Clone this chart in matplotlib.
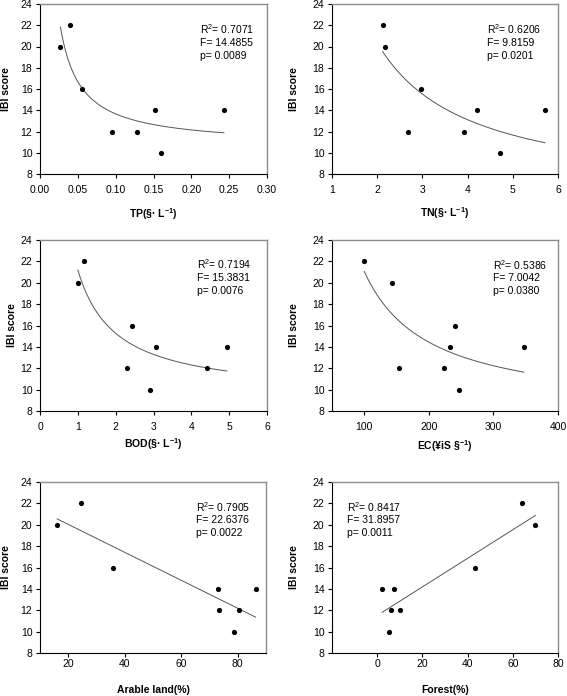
import numpy as np
import matplotlib
matplotlib.use("Agg")
import matplotlib.pyplot as plt

plt.rcParams['font.family'] = ['Liberation Sans', 'DejaVu Sans']
plt.rcParams['mathtext.fontset'] = 'custom'
plt.rcParams['mathtext.rm'] = 'Liberation Sans'
plt.rcParams['mathtext.default'] = 'regular'

# IBI score at each site (same order for every panel)
tp_x = [0.027, 0.040, 0.055, 0.095, 0.128, 0.152, 0.160, 0.243]
tp_y = [20, 22, 16, 12, 12, 14, 10, 14]

tn_x = [2.12, 2.17, 2.68, 2.97, 3.92, 4.20, 4.71, 5.71]
tn_y = [22, 20, 12, 16, 12, 14, 10, 14]

bod_x = [1.00, 1.15, 2.29, 2.43, 2.90, 3.07, 4.41, 4.94]
bod_y = [20, 22, 12, 16, 10, 14, 12, 14]

ec_x = [100, 143, 153, 224, 232, 241, 246, 347]
ec_y = [22, 20, 12, 12, 14, 16, 10, 14]

arable_x = [16.1, 24.4, 36.0, 73.0, 73.2, 78.5, 80.3, 86.3]
arable_y = [20, 22, 16, 14, 12, 10, 12, 14]

forest_x = [2.2, 5.4, 6.1, 7.6, 10.2, 43.3, 63.9, 70.0]
forest_y = [14, 10, 12, 14, 12, 16, 22, 20]

stats = {
    'tp': ['0.7071', '14.4855', '0.0089'],
    'tn': ['0.6206', '9.8159', '0.0201'],
    'bod': ['0.7194', '15.3831', '0.0076'],
    'ec': ['0.5386', '7.0042', '0.0380'],
    'arable': ['0.7905', '22.6376', '0.0022'],
    'forest': ['0.8417', '31.8957', '0.0011'],
}

W, H = 567, 696
fig = plt.figure(figsize=(W / 100, H / 100), dpi=100)


def make_ax(l, r, t, b):
    return fig.add_axes([l / W, 1 - b / H, (r - l) / W, (b - t) / H])


def style(ax):
    for s in ['left', 'bottom']:
        ax.spines[s].set_color('black')
        ax.spines[s].set_linewidth(0.8)
    for s in ['top', 'right']:
        ax.spines[s].set_color('#8c8c8c')
        ax.spines[s].set_linewidth(1.0)
    ax.tick_params(direction='out', length=3, width=0.8, labelsize=7.5,
                   top=False, right=False)
    ax.tick_params(axis='y', pad=2.5)
    ax.set_ylim(8, 24)
    ax.set_yticks(range(8, 25, 2))


def panel(ax, x, y, key, kind, xlim, xticks, xfmt, xlabel, txt_pos, xl_y, yl_x, xpad):
    style(ax)
    x = np.asarray(x, float)
    y = np.asarray(y, float)
    xs = np.linspace(x.min(), x.max(), 200)
    if kind == 'inverse':
        b, a = np.polyfit(1 / x, y, 1)
        ys = a + b / xs
    else:
        b, a = np.polyfit(x, y, 1)
        ys = a + b * xs
    ax.plot(xs, ys, color='#555555', lw=0.7)
    ax.scatter(x, y, s=14, color='black', zorder=3, linewidths=0)
    ax.set_xlim(*xlim)
    ax.set_xticks(xticks)
    ax.set_xticklabels([xfmt.format(v) for v in xticks])
    ax.tick_params(axis='x', pad=xpad)
    ax.set_xlabel(xlabel, fontsize=7.5, fontweight='bold')
    ax.set_ylabel('IBI score', fontsize=7.5, fontweight='bold')
    ax.xaxis.set_label_coords(0.5, xl_y)
    ax.yaxis.set_label_coords(yl_x, 0.5)
    r2, f, p = stats[key]
    tx, ty = txt_pos
    ax.text(tx, ty, 'R$^{2}$= ' + r2, transform=ax.transAxes, fontsize=7.5, va='center')
    ax.text(tx, ty - 0.078, 'F= ' + f, transform=ax.transAxes, fontsize=7.5, va='center')
    ax.text(tx, ty - 0.156, 'p= ' + p, transform=ax.transAxes, fontsize=7.5, va='center')


ax1 = make_ax(40, 267, 4, 174)
panel(ax1, tp_x, tp_y, 'tp', 'inverse', (0, 0.30), [0, 0.05, 0.10, 0.15, 0.20, 0.25, 0.30],
      '{:.2f}', 'TP(§· L$^{-1}$)', (0.705, 0.85), -0.19, -0.128, 5)

ax2 = make_ax(332, 558, 4, 174)
panel(ax2, tn_x, tn_y, 'tn', 'inverse', (1, 6), [1, 2, 3, 4, 5, 6],
      '{:d}', 'TN(§· L$^{-1}$)', (0.687, 0.85), -0.182, -0.148, 5)

ax3 = make_ax(40, 267, 240, 411)
panel(ax3, bod_x, bod_y, 'bod', 'inverse', (0, 6), [0, 1, 2, 3, 4, 5, 6],
      '{:d}', 'BOD(§· L$^{-1}$)', (0.69, 0.858), -0.146, -0.101, 5)

ax4 = make_ax(332, 558, 240, 411)
panel(ax4, ec_x, ec_y, 'ec', 'inverse', (50, 400), [100, 200, 300, 400],
      '{:d}', 'EC(¥iS §$^{-1}$)', (0.714, 0.855), -0.158, -0.148, 5)

ax5 = make_ax(40, 266, 482, 653)
panel(ax5, arable_x, arable_y, 'arable', 'linear', (10, 90), [20, 40, 60, 80],
      '{:d}', 'Arable land(%)', (0.69, 0.856), -0.187, -0.13, 1.5)

ax6 = make_ax(332, 558, 482, 653)
panel(ax6, forest_x, forest_y, 'forest', 'linear', (-20, 80), [0, 20, 40, 60, 80],
      '{:d}', 'Forest(%)', (0.065, 0.856), -0.187, -0.148, 1.5)

fig.savefig('out.png', dpi=100)
